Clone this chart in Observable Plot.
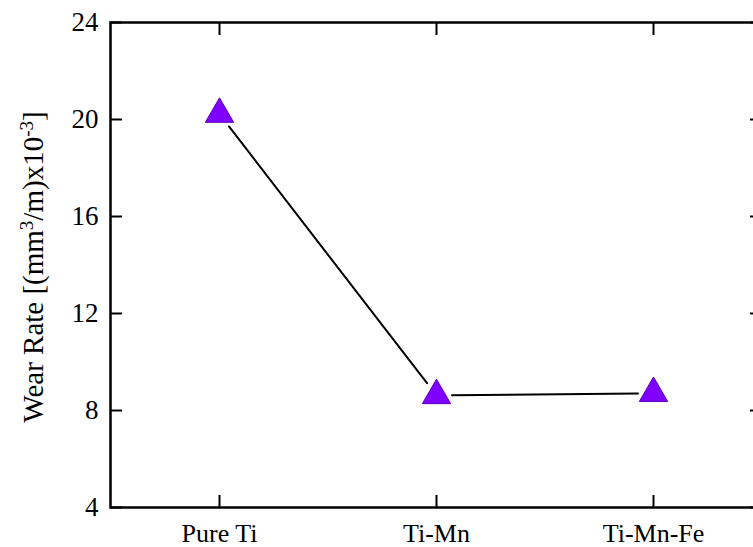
<!DOCTYPE html>
<html>
<head>
<meta charset="utf-8">
<script src="https://cdn.jsdelivr.net/npm/d3@7"></script>
<script src="https://cdn.jsdelivr.net/npm/@observablehq/plot@0.6"></script>
<style>
  html, body { margin: 0; padding: 0; background: #fff; overflow: hidden; width: 753px; height: 547px; }
  #chart svg { display: block; max-width: none !important; }
</style>
</head>
<body>
<div id="chart"></div>
<script>
const categories = ["Pure Ti", "Ti-Mn", "Ti-Mn-Fe"];
const wearRate = [20.22, 8.62, 8.71];
const yTicks = [4, 8, 12, 16, 20, 24];

const points = categories.map((c, i) => ({category: c, value: wearRate[i]}));
const segments = categories.slice(0, -1).map((c, i) => ({
  x1: c, y1: wearRate[i], x2: categories[i + 1], y2: wearRate[i + 1]
}));

const font = "'Liberation Serif', 'Times New Roman', serif";

const chart = Plot.plot({
  width: 762,
  height: 547,
  marginLeft: 110,
  marginRight: 1,
  marginTop: 22,
  marginBottom: 40,
  style: {fontFamily: font, background: "#fff", overflow: "visible", maxWidth: "none"},
  x: {type: "point", domain: categories, padding: 0.5},
  y: {domain: [4, 24]},
  marks: [
    Plot.axisY(yTicks, {anchor: "left", tickSize: -12, strokeWidth: 2, tickFormat: () => "", label: null}),
    Plot.axisY(yTicks, {anchor: "right", tickSize: -12, strokeWidth: 2, tickFormat: () => "", label: null}),
    Plot.axisX(categories, {anchor: "bottom", tickSize: -12, strokeWidth: 2, tickFormat: () => "", label: null}),
    Plot.axisX(categories, {anchor: "top", tickSize: -12, strokeWidth: 2, tickFormat: () => "", label: null}),
    Plot.axisY(yTicks, {anchor: "left", tickSize: 0, tickPadding: 12, fontSize: 27, fill: "#000", label: null}),
    Plot.axisX(categories, {anchor: "bottom", tickSize: 0, tickPadding: 16, fontSize: 26, fill: "#000", label: null}),
    Plot.frame({stroke: "#000", strokeWidth: 2.5}),
    Plot.arrow(segments, {
      x1: "x1", y1: "y1", x2: "x2", y2: "y2",
      headLength: 0, insetStart: 15.5, insetEnd: 15.5,
      stroke: "#000", strokeWidth: 2
    }),
    Plot.dot(points, {
      x: "category", y: "value", symbol: "triangle", r: 10.5,
      fill: "#8000ff", stroke: "#5a00b4", strokeWidth: 1
    })
  ]
});

const svg = d3.select(chart);
const t = svg.append("text")
  .attr("transform", "translate(43,267) rotate(-90)")
  .attr("text-anchor", "middle")
  .attr("font-family", font)
  .attr("font-size", 29)
  .attr("fill", "#000");
t.append("tspan").text("Wear Rate [(mm");
t.append("tspan").attr("baseline-shift", "super").attr("font-size", 19).text("3");
t.append("tspan").text("/m)x10");
t.append("tspan").attr("baseline-shift", "super").attr("font-size", 19).text("-3");
t.append("tspan").text("]");

document.getElementById("chart").appendChild(chart);
</script>
</body>
</html>
